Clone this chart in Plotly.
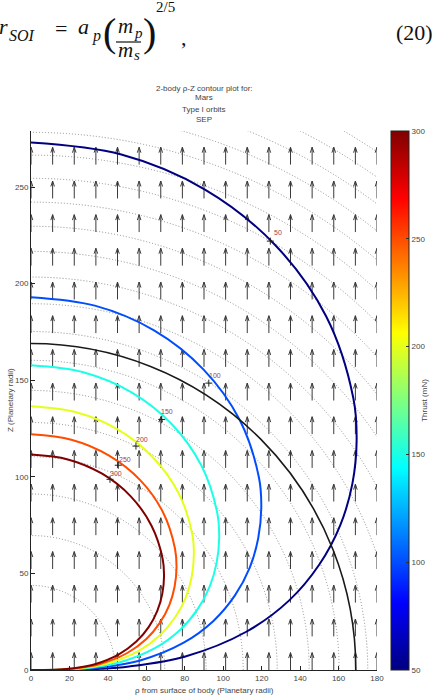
import numpy as np
import plotly.graph_objects as go
import plotly.figure_factory as ff

# ---------------- data ----------------
levels = [50, 100, 150, 200, 250, 300]

rho_50 = [0, 47.0, 90.5, 127.0, 153.6, 167.7, 169.4, 167.2, 160.9, 150.0, 134.2, 112.0, 80.3, 51.0, 36.1, 16.0, 0]
z_50 = [273, 266.8, 248.7, 220.0, 183.0, 140.7, 118.6, 96.5, 75.0, 54.6, 35.9, 19.8, 7.0, 1.8, 0.6, 0.06, 0]

rho_100 = [0, 33.2, 64.0, 89.8, 108.6, 118.6, 119.8, 118.2, 113.8, 106.1, 94.9, 79.2, 56.8, 36.1, 25.5, 11.4, 0]
z_100 = [193, 188.6, 175.8, 155.5, 129.4, 99.5, 83.9, 68.2, 53.0, 38.6, 25.4, 14.0, 4.95, 1.26, 0.45, 0.04, 0]

rho_150 = [0, 27.2, 52.3, 73.4, 88.7, 96.9, 97.9, 96.6, 93.0, 86.7, 77.5, 64.7, 46.4, 29.5, 20.9, 9.3, 0]
z_150 = [157.7, 154.1, 143.7, 127.1, 105.7, 81.3, 68.5, 55.7, 43.3, 31.5, 20.7, 11.4, 4.0, 1.0, 0.36, 0.03, 0]

rho_200 = [0, 23.5, 45.3, 63.5, 76.8, 83.9, 84.7, 83.6, 80.5, 75.0, 67.1, 56.0, 40.2, 25.5, 18.1, 8.1, 0]
z_200 = [136.5, 133.4, 124.4, 110.0, 91.5, 70.4, 59.3, 48.3, 37.5, 27.3, 18.0, 9.9, 3.5, 0.9, 0.32, 0.03, 0]

rho_250 = [0, 21.0, 40.4, 56.8, 68.6, 74.9, 75.7, 74.7, 71.9, 67.0, 60.0, 50.1, 35.9, 22.8, 16.1, 7.2, 0]
z_250 = [122, 119.2, 111.1, 98.3, 81.8, 62.9, 53.0, 43.1, 33.5, 24.4, 16.0, 8.8, 3.1, 0.8, 0.28, 0.02, 0]

rho_300 = [0, 19.2, 37.0, 51.9, 62.7, 68.5, 69.2, 68.3, 65.7, 61.3, 54.8, 45.7, 32.8, 20.8, 14.7, 6.6, 0]
z_300 = [111.5, 109.0, 101.6, 89.9, 74.7, 57.5, 48.4, 39.4, 30.6, 22.3, 14.7, 8.1, 2.86, 0.73, 0.26, 0.02, 0]

contour_rho = [rho_50, rho_100, rho_150, rho_200, rho_250, rho_300]
contour_z = [z_50, z_100, z_150, z_200, z_250, z_300]

# contour label positions ("+" on the line, text centre beside it)
label_text = ["50", "100", "150", "200", "250", "300"]
mark_rho = [124.5, 92.5, 68.0, 54.6, 45.4, 41.1]
mark_z = [222.0, 148.5, 129.7, 115.9, 106.0, 98.7]
label_rho = [128.5, 95.5, 71.0, 58.0, 49.0, 44.0]
label_z = [226.5, 152.5, 133.6, 119.5, 109.0, 101.5]

# sphere of influence (black circle) radius
soi_radius = 169.0

# dotted reference circles (radii)
dotted_radii = [43.8, 69.6, 91.1, 110.4, 128.1, 144.7, 160.3, 175.2, 189.6, 203.4,
                216.7, 229.7, 242.2, 254.5, 266.5, 278.3, 289.9, 301.0, 312.2, 323.0, 333.6]

# quiver grid
quiver_rho = [0, 11.25, 22.5, 33.75, 45, 56.25, 67.5, 78.75, 90, 101.25, 112.5,
              123.75, 135, 146.25, 157.5, 168.75, 180]
quiver_z = [0, 17.4, 34.9, 52.3, 69.8, 87.2, 104.6, 122.1, 139.5, 156.9, 174.4,
            191.8, 209.3, 226.7, 244.1, 261.6, 279]
arrow_len = 9.0

x_ticks = [0, 20, 40, 60, 80, 100, 120, 140, 160, 180]
y_ticks = [0, 50, 100, 150, 200, 250]
cbar_ticks = [50, 100, 150, 200, 250, 300]

title_lines = ["2-body \u03c1-Z contour plot for:", "Mars", "Type I orbits", "SEP"]

# ---------------- styling helpers ----------------
W, H = 445, 699
PL, PR, PT, PB = 31, 377, 131, 670
XR = [0, 180]
YR = [0, 279]
CMIN, CMAX = 50, 300

jet = [[0.0, "rgb(0,0,128)"], [0.125, "rgb(0,0,255)"], [0.375, "rgb(0,255,255)"],
       [0.625, "rgb(255,255,0)"], [0.875, "rgb(255,0,0)"], [1.0, "rgb(128,0,0)"]]


def jet_color(v):
    t = (v - CMIN) / (CMAX - CMIN)
    stops = [(0.0, (0, 0, 128)), (0.125, (0, 0, 255)), (0.375, (0, 255, 255)),
             (0.625, (255, 255, 0)), (0.875, (255, 0, 0)), (1.0, (128, 0, 0))]
    for (t0, c0), (t1, c1) in zip(stops[:-1], stops[1:]):
        if t0 <= t <= t1:
            f = (t - t0) / (t1 - t0)
            c = [round(a + (b - a) * f) for a, b in zip(c0, c1)]
            return "rgb(%d,%d,%d)" % tuple(c)
    return "rgb(128,0,0)"


def P(px, py):
    return (px - PL) / (PR - PL), (PB - py) / (PB - PT)


fig = go.Figure()

# quiver arrows
gx, gy = np.meshgrid(quiver_rho, quiver_z)
q = ff.create_quiver(gx.ravel(), gy.ravel(), np.zeros(gx.size), np.full(gx.size, arrow_len),
                     scale=1.0, arrow_scale=0.33, angle=0.32,
                     line=dict(color="#3a3a3a", width=1))
for tr in q.data:
    tr.showlegend = False
    tr.hoverinfo = "skip"
    fig.add_trace(tr)

# thrust contour lines
for lev, xs, ys in zip(levels, contour_rho, contour_z):
    fig.add_trace(go.Scatter(x=xs, y=ys, mode="lines", line=dict(color=jet_color(lev), width=2, shape="spline"),
                             showlegend=False, hoverinfo="skip"))

# label markers
fig.add_trace(go.Scatter(x=mark_rho, y=mark_z, mode="markers",
                         marker=dict(symbol="cross-thin", size=5, line=dict(color="#202020", width=1)),
                         showlegend=False, hoverinfo="skip"))

# colorbar carrier
fig.add_trace(go.Scatter(x=[-50], y=[-50], mode="markers",
                         marker=dict(color=[CMIN], cmin=CMIN, cmax=CMAX, colorscale=jet, showscale=True,
                                     colorbar=dict(x=(391 - PL) / (PR - PL), xanchor="left", xpad=0,
                                                   y=0.5, yanchor="middle", ypad=0,
                                                   len=1.0, lenmode="fraction", thickness=18, thicknessmode="pixels",
                                                   outlinewidth=1, outlinecolor="#222",
                                                   tickvals=cbar_ticks, ticks="inside", ticklen=3,
                                                   tickcolor="#333", tickfont=dict(size=8, color="#444",
                                                                                   family="Liberation Sans"),
                                                   title=dict(text="Thrust (mN)", side="right",
                                                              font=dict(size=8, color="#444",
                                                                        family="Liberation Sans")))),
                         showlegend=False, hoverinfo="skip"))

shapes = []
for r in dotted_radii:
    shapes.append(dict(type="circle", xref="x", yref="y", x0=-r, y0=-r, x1=r, y1=r,
                       line=dict(color="#8c8c8c", width=1, dash="1px,2px"), layer="below"))
shapes.append(dict(type="circle", xref="x", yref="y", x0=-soi_radius, y0=-soi_radius,
                   x1=soi_radius, y1=soi_radius, line=dict(color="#1a1a1a", width=1.6), layer="above"))

annotations = []
for t, x, y in zip(label_text, label_rho, label_z):
    annotations.append(dict(x=x, y=y, xref="x", yref="y", text=t, showarrow=False, xanchor="center",
                            yanchor="middle", borderpad=0,
                            font=dict(size=7, color="#a0404a", family="Liberation Sans")))

# title lines
for txt, py in zip(title_lines, [88, 98, 109.5, 119.5]):
    ax, ay = P(204, py)
    annotations.append(dict(x=ax, y=ay, xref="paper", yref="paper", text=txt, showarrow=False,
                            xanchor="center", yanchor="middle",
                            font=dict(size=8, color="#444", family="Liberation Sans")))

# axis titles
ax, ay = P(204, 690)
annotations.append(dict(x=ax, y=ay, xref="paper", yref="paper", text="\u03c1 from surface of body (Planetary radii)",
                        showarrow=False, xanchor="center", yanchor="middle",
                        font=dict(size=8, color="#444", family="Liberation Sans")))
ax, ay = P(10, 400)
annotations.append(dict(x=ax, y=ay, xref="paper", yref="paper", text="Z (Planetary radii)", textangle=-90,
                        showarrow=False, xanchor="center", yanchor="middle",
                        font=dict(size=8, color="#444", family="Liberation Sans")))

# equation line above the figure
eq_font = "Liberation Serif"
def eq(txt, px, py, size, italic=True, anchor="left"):
    ax, ay = P(px, py)
    t = "<i>%s</i>" % txt if italic else txt
    annotations.append(dict(x=ax, y=ay, xref="paper", yref="paper", text=t, showarrow=False, borderpad=0,
                            xanchor=anchor, yanchor="middle", font=dict(size=size, color="#111", family=eq_font)))

eq("r", -2, 26, 22)
eq("SOI", 8, 35, 16)
eq("=", 54, 28, 22, italic=False)
eq("a", 77, 27, 22)
eq("p", 91, 36, 16)
eq("(", 102, 33, 40, italic=False)
eq("m", 117, 26, 21)
eq("p", 133, 33, 15)
eq("m", 117, 50, 21)
eq("s", 133, 55, 15)
eq(")", 142, 33, 40, italic=False)
eq("2/5", 155, 7, 15, italic=False)
eq(",", 180, 37, 22, italic=False)
eq("(20)", 395, 32, 22, italic=False)
fx0, fy = P(116, 42)
fx1, _ = P(141, 42)
shapes.append(dict(type="line", xref="paper", yref="paper", x0=fx0, x1=fx1, y0=fy, y1=fy,
                   line=dict(color="#111", width=1.2)))

fig.update_layout(
    width=W, height=H, margin=dict(l=PL, r=W - PR, t=PT, b=H - PB, pad=0, autoexpand=False),
    paper_bgcolor="white", plot_bgcolor="white",
    shapes=shapes, annotations=annotations, showlegend=False,
    xaxis=dict(range=XR, tickvals=x_ticks, ticks="inside", ticklen=4, tickcolor="#222",
               showline=True, linecolor="#222", linewidth=1, showgrid=False, zeroline=False,
               tickfont=dict(size=8, color="#444", family="Liberation Sans")),
    yaxis=dict(range=YR, tickvals=y_ticks, ticks="inside", ticklen=4, tickcolor="#222",
               showline=True, linecolor="#222", linewidth=1, showgrid=False, zeroline=False,
               tickfont=dict(size=8, color="#444", family="Liberation Sans")),
)

fig.write_html("out.html")
